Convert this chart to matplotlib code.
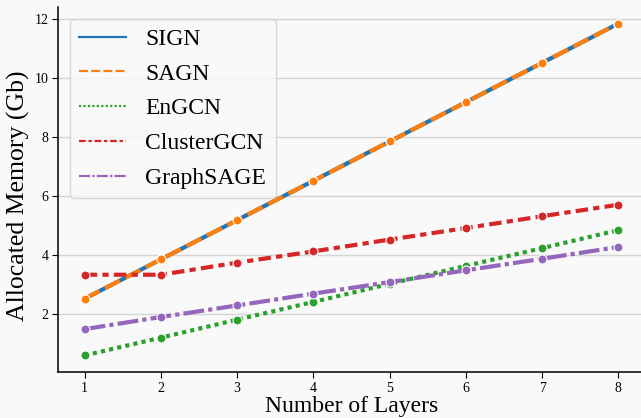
import matplotlib
matplotlib.use("Agg")
import matplotlib.pyplot as plt

# memory allocated per model vs. depth
layers = [1, 2, 3, 4, 5, 6, 7, 8]
sign = [2.53, 3.86, 5.19, 6.52, 7.85, 9.18, 10.51, 11.84]
sagn = [2.53, 3.86, 5.19, 6.52, 7.85, 9.18, 10.51, 11.84]
engcn = [0.61, 1.21, 1.82, 2.42, 3.03, 3.64, 4.24, 4.85]
clustergcn = [3.34, 3.34, 3.75, 4.13, 4.53, 4.92, 5.32, 5.71]
graphsage = [1.50, 1.91, 2.30, 2.70, 3.09, 3.49, 3.88, 4.28]

names = ["SIGN", "SAGN", "EnGCN", "ClusterGCN", "GraphSAGE"]
series = [sign, sagn, engcn, clustergcn, graphsage]
colors = ["#1f77b4", "#ff7f0e", "#2ca02c", "#d62728", "#9467bd"]
# dash patterns in units of line width (scaled by matplotlib)
dashes = [None, (4, 1.5), (1, 1), (3, 1.25, 1.5, 1.25), (5, 1, 1, 1)]
yticks = [2, 4, 6, 8, 10, 12]

plt.rcParams["font.family"] = "serif"
plt.rcParams["font.serif"] = ["Liberation Serif", "DejaVu Serif"]
plt.rcParams["mathtext.fontset"] = "stix"

bg = "#f9f9f9"
fig = plt.figure(figsize=(6.41, 4.18), dpi=100, facecolor=bg)
ax = fig.add_axes([58 / 641, 46 / 418, 587 / 641, 365 / 418])
ax.set_facecolor(bg)

lw = 3.0
for name, vals, c, d in zip(names, series, colors, dashes):
    line, = ax.plot(layers, vals, color=c, lw=lw, marker="o", ms=6.5,
                    mec="white", mew=0.8, label=name)
    if d is not None:
        line.set_dashes(d)

ax.set_yticks(yticks)
ax.set_xticks(layers)
ax.tick_params(labelsize=10, length=4, width=0.8, color="black", pad=3)
ax.grid(axis="y", color="#d4d4d4", lw=1)
ax.set_axisbelow(True)
for s in ["top", "right"]:
    ax.spines[s].set_visible(False)
for s in ["left", "bottom"]:
    ax.spines[s].set_linewidth(1.1)
    ax.spines[s].set_color("black")

ax.set_xlabel("Number of Layers", fontsize=17, labelpad=1)
ax.set_ylabel("Allocated Memory (Gb)", fontsize=18.5)
ax.yaxis.set_label_coords(-0.048, 0.484)

leg = ax.legend(loc="upper left", fontsize=17, frameon=True, fancybox=True,
                facecolor=bg, edgecolor="#d0d0d0", borderaxespad=0.5,
                labelspacing=0.56)
for h, d in zip(leg.get_lines(), dashes):
    h.set_linewidth(1.6)
    h.set_marker("")
    if d is not None:
        h.set_dashes(d)

fig.savefig("out.png", dpi=100, facecolor=bg)
